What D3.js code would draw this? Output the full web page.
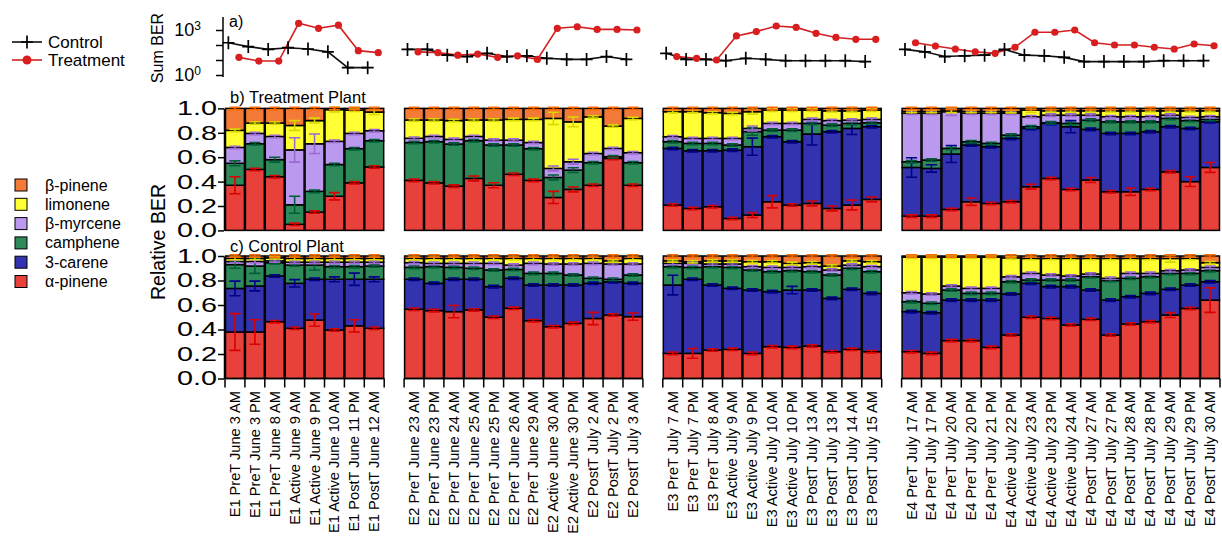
<!DOCTYPE html>
<html><head><meta charset="utf-8">
<script src="https://cdn.jsdelivr.net/npm/d3@7"></script>
<style>
body{margin:0;background:#fff}
svg{display:block}
text{font-family:"Liberation Sans",Arial,Helvetica,sans-serif;fill:#000}
</style>
</head><body>
<svg id="chart" width="1222" height="543"></svg>
<script>
// ---------------- DATA ----------------
const labelsE1 = ["E1 PreT June 3 AM","E1 PreT June 3 PM","E1 PreT June 8 AM","E1 Active June 9 AM","E1 Active June 9 PM","E1 Active June 10 AM","E1 PostT June 11 PM","E1 PostT June 12 AM"];
const labelsE2 = ["E2 PreT June 23 AM","E2 PreT June 23 PM","E2 PreT June 24 AM","E2 PreT June 25 AM","E2 PreT June 25 PM","E2 PreT June 26 AM","E2 PreT June 29 AM","E2 Active June 30 AM","E2 Active June 30 PM","E2 PostT July 2 AM","E2 PostT July 2 PM","E2 PostT July 3 AM"];
const labelsE3 = ["E3 PreT July 7 AM","E3 PreT July 7 PM","E3 PreT July 8 AM","E3 Active July 9 AM","E3 Active July 9 PM","E3 Active July 10 AM","E3 Active July 10 PM","E3 PostT July 13 AM","E3 PostT July 13 PM","E3 PostT July 14 AM","E3 PostT July 15 AM"];
const labelsE4 = ["E4 PreT July 17 AM","E4 PreT July 17 PM","E4 PreT July 20 AM","E4 PreT July 20 PM","E4 PreT July 21 PM","E4 Active July 22 PM","E4 Active July 23 AM","E4 Active July 23 PM","E4 Active July 24 AM","E4 PostT July 27 AM","E4 PostT July 27 PM","E4 PostT July 28 AM","E4 PostT July 28 PM","E4 PostT July 29 AM","E4 PostT July 29 PM","E4 PostT July 30 AM"];
const experimentLabels = [labelsE1, labelsE2, labelsE3, labelsE4];

const compounds = ["α-pinene","3-carene","camphene","β-myrcene","limonene","β-pinene"];
const compoundColors = ["#e8403a","#3333b0","#2f8a5a","#bb99ee","#ffff33","#f47a38"];
const errorColors = ["#d80000","#000088","#005f38","#9a6ad0","#d8d800","#ff6a00"];

const sumTicks = [1, 10, 100, 1000];
const relTicks = [0, 0.2, 0.4, 0.6, 0.8, 1.0];

// a) Sum BER (log scale)
const controlSum = [141,78,51,66,54,35,3.1,3.1,
  51,51,21,17,28,17,19,13,11,11,17,11,
  28,11,11,9,13,11,9,9,9,9,7.8,
  51,35,17,19,21,51,21,19,15,7.8,7.8,7.8,7.8,9,9,9];
const treatmentSum = [15,8.5,8.5,2800,1300,2100,42,31,
  35,31,21,25,15,19,11,1300,1650,1100,1100,1000,
  17,13,10,400,780,1850,1500,600,320,240,240,
  141,85,54,35,28,71,710,710,1000,141,100,100,71,54,117,89];

// b) Treatment plant relative BER
const trtAlphaPinene = [.37,.50,.44,.05,.15,.28,.39,.52,
  .41,.39,.363,.426,.37,.46,.41,.27,.336,.37,.59,.37,
  .208,.18,.194,.098,.126,.235,.208,.221,.18,.208,.254,
  .117,.117,.172,.235,.221,.235,.358,.426,.336,.413,.317,.317,.336,.48,.40,.516];
const trtCarene = [0,0,0,0,0,0,0,0,
  0,0,0,0,0,0,0,0,0,0,0,0,
  .464,.473,.459,.56,.56,.533,.519,.569,.629,.628,.596,
  .399,.391,.454,.465,.465,.519,.478,.451,.514,.415,.478,.478,.473,.37,.436,.374];
const trtCamphene = [.18,.21,.14,.16,.17,.26,.28,.215,
  .31,.337,.345,.309,.33,.24,.26,.164,.158,.185,.014,.185,
  .055,.06,.06,.042,.124,.054,.095,.087,.054,.041,.032,
  .047,.069,.046,.027,.027,.027,.014,.005,.027,.076,.095,.095,.081,.068,.064,.02];
const trtMyrcene = [.13,.085,.19,.45,.39,.19,.125,.082,
  .035,.043,.038,.035,.04,.04,.05,.074,.069,.075,.068,.082,
  .041,.041,.041,.054,.026,.055,.055,.033,.037,.027,.028,
  .397,.383,.301,.233,.247,.179,.082,.063,.068,.041,.042,.042,.042,.027,.026,.022];
const trtLimonene = [.14,.085,.11,.20,.19,.26,.19,.153,
  .15,.135,.154,.135,.165,.17,.19,.41,.327,.30,.183,.281,
  .205,.219,.211,.205,.137,.109,.109,.076,.08,.076,.076,
  .015,.015,.012,.015,.015,.013,.054,.035,.035,.035,.048,.048,.048,.035,.054,.048];
const trtBetaPinene = [.18,.12,.12,.14,.10,.01,.015,.03,
  .095,.095,.10,.095,.095,.09,.09,.082,.11,.07,.145,.082,
  .027,.027,.035,.041,.027,.014,.014,.014,.02,.02,.014,
  .025,.025,.015,.025,.025,.027,.014,.02,.02,.02,.02,.02,.02,.02,.02,.02];

const trtErrAlpha = [.07,.01,.01,.01,.01,.03,.01,.01,
  .01,.01,.01,.02,.02,.01,.01,.05,.02,.01,.01,.01,
  .01,.01,.01,.01,.02,.05,.01,.02,.02,.04,.02,
  .01,.01,.01,.03,.01,.01,.02,.01,.01,.02,.01,.03,.01,.01,.04,.04];
const trtErrCarene = [0,0,0,0,0,0,0,0,
  0,0,0,0,0,0,0,0,0,0,0,0,
  .01,.01,.01,.01,.07,.01,.01,.09,.01,.05,.01,
  .08,.03,.07,.01,.01,.01,.01,.01,.05,.01,.01,.01,.01,.01,.01,.01];
const trtErrCamphene = [.02,.01,.02,.07,.01,.01,.01,.01,
  .01,.01,.01,.01,.01,.01,.01,.02,.02,.01,.01,.01,
  .01,.01,.01,.01,.03,.01,.01,.01,.01,.01,.01,
  .01,.01,.01,.01,.01,.01,.01,.01,.01,.01,.01,.01,.01,.01,.01,.01];
const trtErrMyrcene = [.01,.01,.01,.10,.08,.01,.01,.01,
  .01,.01,.01,.01,.01,.01,.01,.02,.02,.01,.01,.01,
  .01,.01,.01,.01,.02,.01,.01,.01,.01,.01,.01,
  .01,.01,.03,.01,.01,.01,.01,.01,.01,.01,.01,.01,.01,.01,.01,.01];
const trtErrLimonene = [.01,.01,.01,.04,.02,.02,.01,.02,
  .01,.01,.01,.01,.01,.01,.01,.05,.04,.01,.01,.01,
  .01,.01,.01,.01,.02,.01,.01,.01,.01,.01,.01,
  .01,.01,.02,.01,.01,.01,.02,.01,.01,.01,.01,.01,.01,.01,.01,.01];
const trtErrBetaPinene = [.01,.01,.01,.01,.01,.01,.01,.01,
  .01,.01,.01,.01,.01,.01,.01,.01,.01,.01,.01,.01,
  .01,.01,.01,.01,.01,.01,.01,.01,.01,.01,.01,
  .01,.01,.01,.01,.01,.01,.01,.01,.01,.01,.01,.01,.01,.01,.01,.01];

// c) Control plant relative BER
const ctlAlphaPinene = [.38,.38,.464,.41,.477,.396,.43,.41,
  .565,.554,.546,.56,.50,.573,.472,.423,.45,.49,.518,.505,
  .205,.205,.232,.238,.205,.26,.254,.265,.219,.238,.219,
  .219,.205,.309,.309,.254,.355,.50,.49,.437,.483,.355,.445,.464,.518,.572,.64];
const ctlCarene = [.355,.375,.373,.367,.333,.414,.38,.40,
  .245,.223,.264,.25,.25,.245,.291,.34,.313,.287,.272,.272,
  .558,.605,.531,.498,.517,.449,.468,.457,.435,.49,.476,
  .327,.332,.331,.331,.386,.335,.277,.26,.313,.239,.285,.223,.231,.21,.191,.15];
const ctlCamphene = [.195,.163,.108,.149,.116,.103,.103,.108,
  .097,.136,.097,.09,.136,.072,.095,.095,.082,.041,.02,.068,
  .15,.097,.15,.171,.164,.163,.158,.15,.191,.172,.177,
  .081,.077,.082,.055,.055,.10,.027,.054,.054,.109,.16,.15,.136,.13,.095,.09];
const ctlMyrcene = [.025,.037,.015,.024,.024,.037,.037,.032,
  .039,.027,.033,.04,.054,.036,.082,.077,.09,.122,.125,.09,
  .027,.033,.022,.028,.027,.035,.027,.041,.041,.026,.041,
  .073,.076,.033,.041,.041,.04,.054,.041,.033,.022,.018,.04,.027,.022,.028,.027];
const ctlLimonene = [.025,.025,.025,.03,.03,.03,.03,.03,
  .034,.04,.04,.04,.04,.054,.04,.045,.045,.04,.025,.045,
  .02,.013,.025,.025,.04,.046,.033,.032,.032,.034,.04,
  .29,.30,.235,.254,.254,.155,.122,.135,.143,.127,.162,.122,.122,.10,.094,.038];
const ctlBetaPinene = [.02,.02,.015,.02,.02,.02,.02,.02,
  .02,.02,.02,.02,.02,.02,.02,.02,.02,.02,.04,.02,
  .04,.047,.04,.04,.047,.047,.06,.055,.082,.04,.047,
  .01,.01,.01,.01,.01,.015,.02,.02,.02,.02,.02,.02,.02,.02,.02,.055];

const ctlErrAlpha = [.15,.10,.01,.01,.05,.01,.05,.01,
  .01,.01,.05,.01,.01,.01,.01,.01,.01,.05,.01,.03,
  .01,.04,.01,.01,.01,.01,.01,.01,.01,.01,.01,
  .01,.01,.01,.01,.01,.01,.01,.01,.01,.01,.01,.01,.01,.02,.01,.10];
const ctlErrCarene = [.06,.04,.01,.03,.01,.02,.05,.02,
  .01,.01,.01,.01,.01,.01,.01,.01,.01,.01,.01,.01,
  .08,.01,.01,.01,.01,.01,.03,.01,.01,.01,.01,
  .01,.01,.01,.01,.01,.01,.01,.01,.01,.01,.01,.01,.01,.01,.01,.01];
const ctlErrCamphene = [.03,.06,.01,.01,.04,.01,.01,.01,
  .01,.01,.01,.01,.01,.01,.01,.01,.01,.01,.01,.01,
  .01,.01,.01,.01,.01,.01,.01,.01,.01,.01,.01,
  .01,.01,.01,.01,.01,.01,.01,.01,.01,.01,.01,.01,.01,.01,.01,.01];
const ctlErrMyrcene = [.01,.01,.01,.01,.01,.01,.01,.01,
  .01,.01,.01,.01,.01,.01,.01,.01,.01,.01,.01,.01,
  .01,.01,.01,.01,.01,.01,.01,.01,.01,.01,.01,
  .01,.01,.01,.01,.01,.01,.01,.01,.01,.01,.01,.01,.01,.01,.01,.01];
const ctlErrLimonene = [.01,.01,.01,.01,.01,.01,.01,.01,
  .01,.01,.01,.01,.01,.01,.01,.01,.01,.01,.01,.01,
  .01,.01,.01,.01,.01,.01,.01,.01,.01,.01,.01,
  .01,.01,.01,.01,.01,.01,.01,.01,.01,.01,.01,.01,.01,.03,.01,.01];
const ctlErrBetaPinene = [.01,.01,.01,.01,.01,.01,.01,.01,
  .01,.01,.01,.01,.01,.01,.01,.01,.01,.01,.01,.01,
  .01,.01,.01,.01,.01,.01,.01,.01,.01,.01,.01,
  .01,.01,.01,.01,.01,.01,.01,.01,.01,.01,.01,.01,.01,.01,.01,.01];

// ---------------- CHART ----------------
const svg = d3.select("#chart");
const categories = experimentLabels.flat();
const slots = [];
experimentLabels.forEach((arr, i) => { if (i > 0) slots.push("__gap" + i); arr.forEach(l => slots.push(l)); });
const x = d3.scaleBand().domain(slots).range([225, 1220]);
const bw = x.bandwidth();

const yA = d3.scaleLog().domain([1, 1000]).range([75, 30]);
const yB = d3.scaleLinear().domain([0, 1]).range([230.4, 108.4]);
const yC = d3.scaleLinear().domain([0, 1]).range([378.5, 256]);
const AXIS_X = 224;

// ---- panel a ----
const gA = svg.append("g");
const axA = gA.append("g").attr("transform", `translate(${AXIS_X - 1},0)`)
  .call(d3.axisLeft(yA).tickValues(sumTicks).tickSize(7).tickSizeOuter(0).tickPadding(3).tickFormat(() => ""));
axA.select(".domain").attr("d", "M0,17V77").attr("stroke-width", 1.5);
axA.selectAll(".tick line").attr("stroke-width", 1.5);
axA.selectAll(".tick text").attr("font-size", 18).attr("font-family", "Liberation Sans, Arial, sans-serif")
  .each(function (d) {
    if (d === 1 || d === 1000) {
      const t = d3.select(this);
      t.append("tspan").text("10");
      t.append("tspan").attr("dy", "-0.55em").attr("font-size", 12).text(d === 1 ? "0" : "3");
      t.attr("dx", "-12");
    }
  });

const sumRows = categories.map((c, i) => ({ cat: c, ctl: controlSum[i], trt: treatmentSum[i] }));
const lineCtl = d3.line().x(d => x(d.cat) + x.step() * 0.17).y(d => yA(d.ctl));
const lineTrt = d3.line().x(d => x(d.cat) + x.step() * 0.70).y(d => yA(d.trt));
experimentLabels.forEach(arr => {
  const rows = sumRows.filter(r => arr.includes(r.cat));
  gA.append("path").datum(rows).attr("d", lineCtl).attr("fill", "none").attr("stroke", "#111").attr("stroke-width", 1.6);
  gA.append("path").datum(rows).attr("d", lineTrt).attr("fill", "none").attr("stroke", "#d42020").attr("stroke-width", 1.6);
  gA.selectAll(null).data(rows).join("path")
    .attr("d", d => { const cx = x(d.cat) + x.step() * 0.17, cy = yA(d.ctl); return `M${cx - 6},${cy}H${cx + 6}M${cx},${cy - 6.5}V${cy + 6.5}`; })
    .attr("stroke", "#000").attr("stroke-width", 1.7);
  gA.selectAll(null).data(rows).join("circle")
    .attr("cx", d => x(d.cat) + x.step() * 0.70).attr("cy", d => yA(d.trt)).attr("r", 3.6)
    .attr("fill", "#d81e1e");
});
gA.append("text").attr("x", 229).attr("y", 27).attr("font-size", 16).text("a)");

// ---- stacked panels ----
function drawPanel(y, series, errs, title, titleY) {
  const rows = categories.map((c, i) => { const o = { cat: c }; compounds.forEach((k, j) => o[k] = series[j][i]); return o; });
  const stacked = d3.stack().keys(compounds)(rows);
  const g = svg.append("g");
  stacked.forEach((layer, j) => {
    g.selectAll(null).data(layer).join("rect")
      .attr("x", d => x(d.data.cat) + 0.5).attr("width", bw - 1)
      .attr("y", d => y(d[1])).attr("height", d => Math.max(0, y(d[0]) - y(d[1])))
      .attr("fill", compoundColors[j]).attr("stroke", "#000").attr("stroke-width", 1.5);
  });
  stacked.forEach((layer, j) => {
    const eg = g.append("g").attr("stroke", errorColors[j]).attr("stroke-width", 1.6);
    layer.forEach((d, i) => {
      const e = errs[j][i];
      if (!e || series[j][i] === 0) return;
      const cx = x(d.data.cat) + bw / 2, cw = bw * 0.28;
      const y1 = y(d[1] + e), y2 = y(d[1] - e);
      eg.append("path").attr("d", `M${cx},${y1}V${y2}M${cx - cw},${y1}H${cx + cw}M${cx - cw},${y2}H${cx + cw}`);
    });
  });
  const ax = g.append("g").attr("transform", `translate(${AXIS_X},0)`)
    .call(d3.axisLeft(y).tickValues(relTicks).tickSize(6).tickSizeOuter(0).tickPadding(1).tickFormat(d3.format(".1f")));
  ax.select(".domain").attr("stroke-width", 1.5);
  ax.selectAll(".tick line").attr("stroke-width", 1.5);
  ax.selectAll(".tick text").attr("font-size", 20).attr("font-family", "Liberation Sans, Arial, sans-serif")
    .attr("textLength", 40).attr("lengthAdjust", "spacingAndGlyphs");
  g.append("text").attr("x", 230).attr("y", titleY).attr("font-size", 16.5).text(title);
}
drawPanel(yB, [trtAlphaPinene, trtCarene, trtCamphene, trtMyrcene, trtLimonene, trtBetaPinene],
  [trtErrAlpha, trtErrCarene, trtErrCamphene, trtErrMyrcene, trtErrLimonene, trtErrBetaPinene], "b) Treatment Plant", 103);
drawPanel(yC, [ctlAlphaPinene, ctlCarene, ctlCamphene, ctlMyrcene, ctlLimonene, ctlBetaPinene],
  [ctlErrAlpha, ctlErrCarene, ctlErrCamphene, ctlErrMyrcene, ctlErrLimonene, ctlErrBetaPinene], "c) Control Plant", 252);

// ---- category axis (bottom) ----
const gX = svg.append("g");
const yBase = yC(0);
experimentLabels.forEach(arr => {
  const x0 = x(arr[0]), x1 = x(arr[arr.length - 1]) + bw;
  gX.append("path").attr("d", `M${x0},${yBase}H${x1}`).attr("stroke", "#000").attr("stroke-width", 1.5);
  arr.forEach((l, i) => {
    gX.append("path").attr("d", `M${x(l)},${yBase}V${yBase + 9}`).attr("stroke", "#000").attr("stroke-width", 1.5);
  });
  gX.append("path").attr("d", `M${x1},${yBase}V${yBase + 9}`).attr("stroke", "#000").attr("stroke-width", 1.5);
});
gX.selectAll(null).data(categories).join("text")
  .attr("transform", d => `translate(${x(d) + bw / 2 + 5},391) rotate(-90)`)
  .attr("text-anchor", "end").attr("font-size", 14.6).text(d => d);

// ---- axis titles ----
svg.append("text").attr("transform", "translate(163,48) rotate(-90)").attr("text-anchor", "middle").attr("font-size", 16).text("Sum BER");
svg.append("text").attr("transform", "translate(165,242) rotate(-90)").attr("text-anchor", "middle").attr("font-size", 19.5).text("Relative BER");

// ---- legends ----
const lg1 = svg.append("g");
lg1.append("path").attr("d", "M12,42H42").attr("stroke", "#111").attr("stroke-width", 1.6);
lg1.append("path").attr("d", "M21,42H33M27,35.5V48.5").attr("stroke", "#000").attr("stroke-width", 1.7);
lg1.append("text").attr("x", 48).attr("y", 48).attr("font-size", 17).text("Control");
lg1.append("path").attr("d", "M12,60H42").attr("stroke", "#d42020").attr("stroke-width", 1.6);
lg1.append("circle").attr("cx", 27).attr("cy", 60).attr("r", 4.5).attr("fill", "#d81e1e");
lg1.append("text").attr("x", 48).attr("y", 66).attr("font-size", 17).text("Treatment");

const legendOrder = compounds.map((c, i) => ({ name: c, color: compoundColors[i] })).reverse();
const lg2 = svg.append("g");
legendOrder.forEach((d, i) => {
  const cy = 185 + i * 19.3;
  lg2.append("rect").attr("x", 15).attr("y", cy - 6).attr("width", 12).attr("height", 12)
    .attr("fill", d.color).attr("stroke", "#000").attr("stroke-width", 1);
  lg2.append("text").attr("x", 45).attr("y", cy + 5.5).attr("font-size", 16).text(d.name);
});
</script>
</body></html>
